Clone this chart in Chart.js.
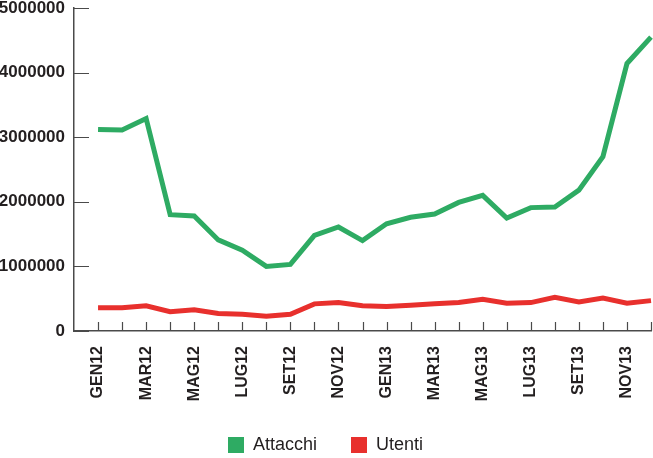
<!DOCTYPE html>
<html>
<head>
<meta charset="utf-8">
<script src="https://cdn.jsdelivr.net/npm/chart.js@4"></script>
<style>
  html, body { margin: 0; padding: 0; background: #fff; }
  #wrap { width: 653px; height: 458px; }
</style>
</head>
<body>
<div id="wrap"><canvas id="attackChart"></canvas></div>
<script>
// Months from GEN12 to DIC13
const months = [
  "GEN12", "FEB12", "MAR12", "APR12", "MAG12", "GIU12",
  "LUG12", "AGO12", "SET12", "OTT12", "NOV12", "DIC12",
  "GEN13", "FEB13", "MAR13", "APR13", "MAG13", "GIU13",
  "LUG13", "AGO13", "SET13", "OTT13", "NOV13", "DIC13",
];

// Attacks per month
const attacchi = [
  3120000, 3110000, 3290000, 1800000, 1780000, 1410000,
  1250000, 1000000, 1030000, 1480000, 1610000, 1400000,
  1660000, 1760000, 1810000, 1990000, 2100000, 1750000,
  1910000, 1920000, 2180000, 2700000, 4140000, 4550000,
];

// Users hit per month
const utenti = [
  360000, 360000, 390000, 300000, 330000, 270000,
  260000, 230000, 260000, 420000, 440000, 390000,
  380000, 400000, 420000, 440000, 490000, 430000,
  440000, 520000, 450000, 510000, 430000, 470000,
];

const yTicks = [0, 1000000, 2000000, 3000000, 4000000, 5000000];

const FONT = "'Liberation Sans', Arial, sans-serif";
const AXIS = "#4a4a4a";
const TEXT = "#231f20";

// Short tick marks drawn on the inside of the axes,
// and a fixed legend height so the labels sit near the bottom edge
const innerTicks = {
  id: "innerTicks",
  afterInit(chart) {
    const legend = chart.legend;
    if (legend) {
      const fit = legend.fit;
      legend.fit = function () {
        fit.call(this);
        this.height = 54;
      };
    }
  },
  afterDraw(chart) {
    const ctx = chart.ctx;
    const x = chart.scales.x;
    const y = chart.scales.y;
    ctx.save();
    ctx.strokeStyle = AXIS;
    ctx.lineWidth = 1.2;
    ctx.beginPath();
    for (let i = 1; i < x.ticks.length; i++) {
      const px = Math.round(x.getPixelForTick(i)) + 0.5;
      ctx.moveTo(px, y.bottom);
      ctx.lineTo(px, y.bottom - 9);
    }
    y.ticks.forEach((t, i) => {
      const py = Math.round(y.getPixelForTick(i)) + 0.5;
      ctx.moveTo(x.left, py);
      ctx.lineTo(x.left + 15, py);
    });
    ctx.stroke();
    ctx.restore();
  },
};

const ctx = document.getElementById("attackChart").getContext("2d");
new Chart(ctx, {
  type: "line",
  data: {
    // leading empty slot keeps the first month one step away from the y axis
    labels: [""].concat(months),
    datasets: [
      {
        label: "Attacchi",
        data: [null].concat(attacchi),
        borderColor: "#2eab63",
        backgroundColor: "#2eab63",
        borderWidth: 5,
        pointRadius: 0,
        tension: 0,
      },
      {
        label: "Utenti",
        data: [null].concat(utenti),
        borderColor: "#e8302d",
        backgroundColor: "#e8302d",
        borderWidth: 5,
        pointRadius: 0,
        tension: 0,
      },
    ],
  },
  options: {
    responsive: true,
    maintainAspectRatio: false,
    animation: false,
    layout: { padding: { top: 0, right: 2, left: 0, bottom: 2 } },
    plugins: {
      tooltip: { enabled: false },
      legend: {
        position: "bottom",
        labels: {
          boxWidth: 16,
          boxHeight: 16,
          padding: 34,
          color: TEXT,
          font: { family: FONT, size: 18 },
          generateLabels(chart) {
            return Chart.defaults.plugins.legend.labels
              .generateLabels(chart)
              .map((l) => Object.assign(l, { lineWidth: 0 }));
          },
        },
      },
    },
    scales: {
      x: {
        grid: { display: false, drawTicks: false },
        border: { display: true, color: AXIS, width: 1.5 },
        afterFit(scale) {
          scale.paddingRight = 0;
          scale.paddingLeft = 0;
          scale.height = 71;
        },
        ticks: {
          autoSkip: false,
          minRotation: 90,
          maxRotation: 90,
          padding: 15,
          color: TEXT,
          font: { family: FONT, size: 16, weight: "bold" },
          callback: function (v, i) {
            return i >= 1 && (i - 1) % 2 === 0 ? this.getLabelForValue(v) : "";
          },
        },
      },
      y: {
        min: 0,
        max: 5000000,
        afterBuildTicks(scale) {
          scale.ticks = yTicks.map((v) => ({ value: v }));
        },
        afterFit(scale) {
          scale.paddingTop = 8;
          scale.width = 74;
        },
        grid: { display: false, drawTicks: false },
        border: { display: true, color: AXIS, width: 1.5 },
        ticks: {
          padding: 9,
          color: TEXT,
          font: { family: FONT, size: 17, weight: "bold" },
          callback: (v) => String(v),
        },
      },
    },
  },
  plugins: [innerTicks],
});
</script>
</body>
</html>
